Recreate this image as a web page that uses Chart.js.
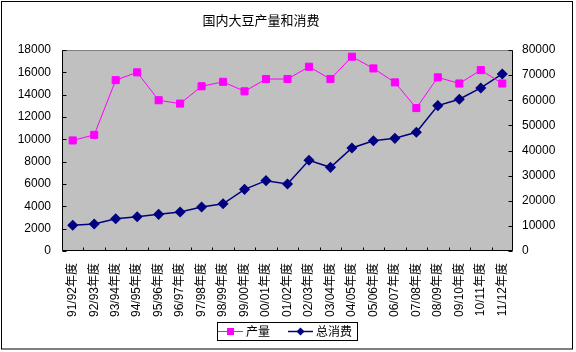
<!DOCTYPE html>
<html>
<head>
<meta charset="utf-8">
<script src="https://cdn.jsdelivr.net/npm/chart.js@4"></script>
<style>
  html, body { margin: 0; padding: 0; background: #fff; }
  canvas { display: block; }
</style>
</head>
<body>
<canvas id="chart" width="576" height="352"></canvas>
<script>
// data
const seasons = ["91/92年度", "92/93年度", "93/94年度", "94/95年度", "95/96年度", "96/97年度", "97/98年度",
  "98/99年度", "99/00年度", "00/01年度", "01/02年度", "02/03年度", "03/04年度", "04/05年度", "05/06年度",
  "06/07年度", "07/08年度", "08/09年度", "09/10年度", "10/11年度", "11/12年度"];
const production = [9900, 10400, 15300, 16000, 13500, 13200, 14750, 15150, 14300, 15400, 15400,
  16500, 15400, 17400, 16350, 15100, 12800, 15550, 15000, 16200, 15000];
const consumption = [10250, 10750, 12850, 13650, 14600, 15500, 17500, 18800, 24550, 28000, 26650,
  36100, 33300, 41000, 43900, 44850, 47250, 57850, 60400, 64900, 70450];
const leftTicks = [0, 2000, 4000, 6000, 8000, 10000, 12000, 14000, 16000, 18000];
const rightTicks = [0, 10000, 20000, 30000, 40000, 50000, 60000, 70000, 80000];

const FONT = "'Liberation Sans', 'Noto Sans CJK SC', sans-serif";
Chart.defaults.font.family = FONT;
Chart.defaults.font.size = 12;
Chart.defaults.color = "#000";

// grey plot area, border and inward tick marks, title, boxed legend
const excelLook = {
  id: "excelLook",
  beforeDraw(chart) {
    const ctx = chart.ctx, a = chart.chartArea;
    ctx.save();
    ctx.fillStyle = "#fff";
    ctx.fillRect(0, 0, chart.width, chart.height);
    ctx.strokeStyle = "#000";
    ctx.lineWidth = 1;
    ctx.strokeRect(1.5, 1.5, 571, 347.5);
    ctx.fillStyle = "#c0c0c0";
    ctx.fillRect(a.left, a.top, a.right - a.left, a.bottom - a.top);
    ctx.restore();
  },
  beforeDatasetsDraw(chart) {
    const ctx = chart.ctx, a = chart.chartArea;
    const x = chart.scales.x, y = chart.scales.y, y1 = chart.scales.y1;
    const L = Math.round(a.left) + 0.5, R = Math.round(a.right) - 0.5;
    const T = Math.round(a.top) + 0.5, B = Math.round(a.bottom) - 0.5;
    ctx.save();
    ctx.lineWidth = 1;
    ctx.strokeStyle = "#808080";
    ctx.beginPath();
    ctx.moveTo(L, T); ctx.lineTo(R, T);
    ctx.stroke();
    ctx.strokeStyle = "#000";
    ctx.beginPath();
    ctx.moveTo(L, T); ctx.lineTo(L, B); ctx.lineTo(R, B); ctx.lineTo(R, T);
    leftTicks.forEach(v => {
      const py = Math.round(y.getPixelForValue(v)) + 0.5;
      ctx.moveTo(L, py); ctx.lineTo(L + 4, py);
    });
    rightTicks.forEach(v => {
      const py = Math.round(y1.getPixelForValue(v)) + 0.5;
      ctx.moveTo(R - 4, py); ctx.lineTo(R, py);
    });
    const step = x.getPixelForValue(1) - x.getPixelForValue(0);
    for (let i = 1; i < seasons.length; i++) {
      const px = Math.round(x.getPixelForValue(i) - step / 2) + 0.5;
      ctx.moveTo(px, B); ctx.lineTo(px, B - 3);
    }
    ctx.stroke();
    ctx.restore();
  },
  afterDraw(chart) {
    const ctx = chart.ctx;
    ctx.save();
    ctx.fillStyle = "#000";
    ctx.font = "13px " + FONT;
    ctx.textAlign = "center";
    ctx.textBaseline = "middle";
    ctx.fillText("国内大豆产量和消费", 261, 21);

    // legend
    ctx.fillStyle = "#fff";
    ctx.fillRect(217.5, 322.5, 140, 18);
    ctx.strokeStyle = "#000";
    ctx.strokeRect(217.5, 322.5, 140, 18);
    const ly = 331.5;
    chart.data.datasets.forEach((ds, i) => {
      const x0 = i === 0 ? 218 : 288;
      ctx.strokeStyle = ds.borderColor;
      ctx.lineWidth = ds.borderWidth;
      ctx.beginPath();
      ctx.moveTo(x0, ly); ctx.lineTo(x0 + 25, ly);
      ctx.stroke();
      ctx.fillStyle = ds.pointBackgroundColor;
      const cx = x0 + 12.5;
      ctx.beginPath();
      if (ds.pointStyle === "rect") {
        ctx.rect(cx - 3.5, ly - 3.5, 7, 7);
      } else {
        ctx.moveTo(cx, ly - 4); ctx.lineTo(cx + 4, ly); ctx.lineTo(cx, ly + 4); ctx.lineTo(cx - 4, ly);
        ctx.closePath();
      }
      ctx.fill();
      ctx.fillStyle = "#000";
      ctx.font = "12px " + FONT;
      ctx.textAlign = "left";
      ctx.fillText(ds.label, x0 + 28, ly + 1);
    });
    ctx.restore();
  }
};

const plain = v => String(v);

new Chart(document.getElementById("chart"), {
  type: "line",
  data: {
    labels: seasons,
    datasets: [
      {
        label: "产量",
        data: production,
        yAxisID: "y",
        borderColor: "#ff00ff",
        backgroundColor: "#ff00ff",
        pointBackgroundColor: "#ff00ff",
        pointBorderColor: "#ff00ff",
        borderWidth: 1,
        pointStyle: "rect",
        pointRadius: 5,
        tension: 0
      },
      {
        label: "总消费",
        data: consumption,
        yAxisID: "y1",
        borderColor: "#000080",
        backgroundColor: "#000080",
        pointBackgroundColor: "#000080",
        pointBorderColor: "#000080",
        borderWidth: 1.5,
        pointStyle: "rectRot",
        pointRadius: 4.5,
        tension: 0
      }
    ]
  },
  options: {
    responsive: false,
    animation: false,
    layout: { padding: { top: 50, left: 0, right: 0, bottom: 0 } },
    plugins: {
      legend: { display: false },
      title: { display: false },
      tooltip: { enabled: false }
    },
    scales: {
      x: {
        offset: true,
        grid: { display: false, drawTicks: false },
        border: { display: false },
        ticks: { autoSkip: false, minRotation: 90, maxRotation: 90, padding: 12 },
        afterFit(s) { s.height = 101; }
      },
      y: {
        position: "left",
        min: 0, max: 18000,
        grid: { display: false, drawTicks: false },
        border: { display: false },
        ticks: { stepSize: 2000, padding: 11, callback: plain },
        afterFit(s) { s.width = 62; }
      },
      y1: {
        position: "right",
        min: 0, max: 80000,
        grid: { display: false, drawTicks: false },
        border: { display: false },
        ticks: { stepSize: 10000, padding: 9, callback: plain },
        afterFit(s) { s.width = 63; }
      }
    }
  },
  plugins: [excelLook]
});
</script>
</body>
</html>
